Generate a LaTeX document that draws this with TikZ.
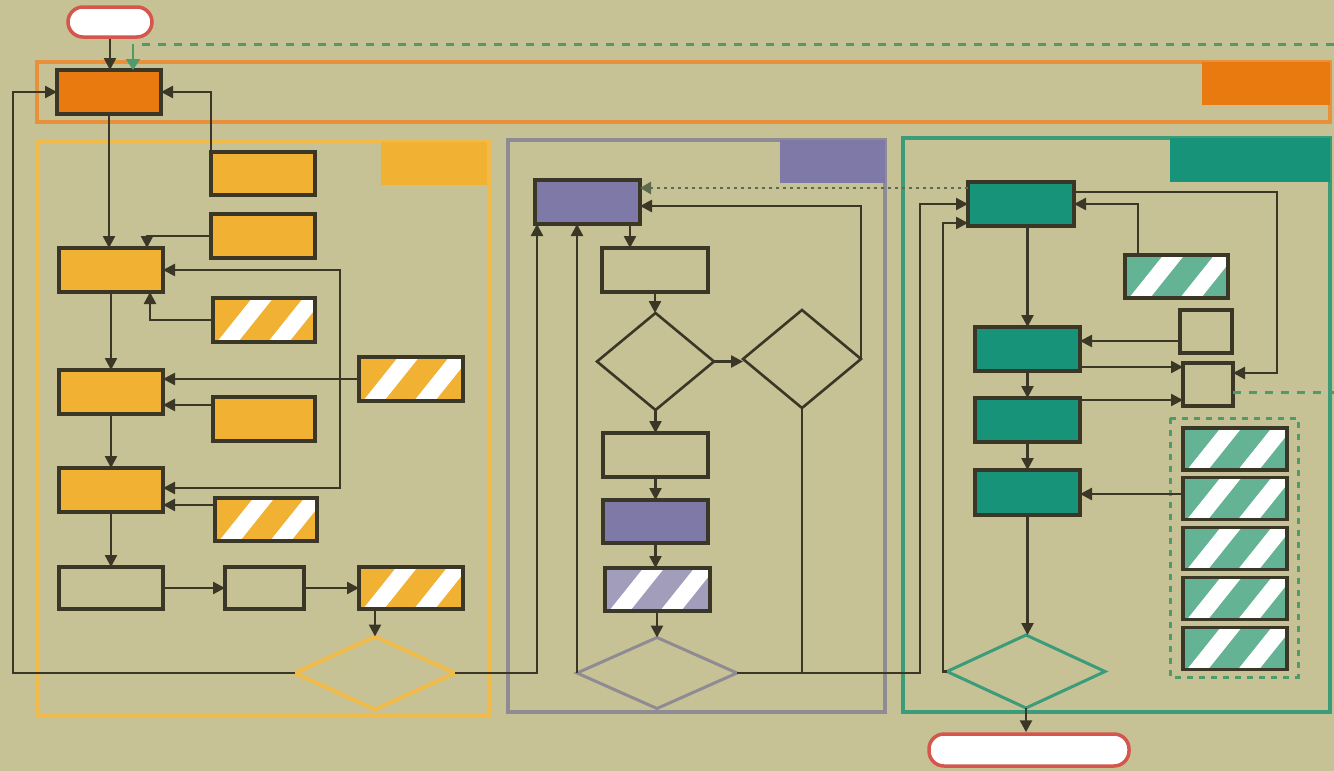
\documentclass[tikz,border=0pt]{standalone}
\usetikzlibrary{arrows.meta,shapes.geometric,calc}
\definecolor{bg}{HTML}{C6C295}
\definecolor{dkline}{HTML}{3B3726}
\definecolor{orgF}{HTML}{E97A0F}
\definecolor{orgFrame}{HTML}{E8913A}
\definecolor{yelF}{HTML}{F1B233}
\definecolor{yelFrame}{HTML}{F0BB4A}
\definecolor{purF}{HTML}{7F79A7}
\definecolor{purH}{HTML}{A29DBB}
\definecolor{purFrame}{HTML}{8E8B94}
\definecolor{grnF}{HTML}{179379}
\definecolor{grnH}{HTML}{65B395}
\definecolor{grnFrame}{HTML}{3C9B79}
\definecolor{termR}{HTML}{D4564C}
\definecolor{dashG}{HTML}{4E9A6A}
\definecolor{dotC}{HTML}{5E6A50}
\tikzset{
  bx/.style={rectangle, draw=dkline, line width=3.2pt, inner sep=0pt, outer sep=0pt},
  sz/.style n args={2}{minimum width=#1pt, minimum height=#2pt},
  hatch/.style={bx, fill=#1, path picture={
     \fill[white] ([xshift=4pt]path picture bounding box.south west) -- ++(21pt,0pt) -- ++(40pt,50pt) -- ++(-21pt,0pt) -- cycle;
     \fill[white] ([xshift=55pt]path picture bounding box.south west) -- ++(21pt,0pt) -- ++(40pt,50pt) -- ++(-21pt,0pt) -- cycle;
  }},
  dia/.style={diamond, draw=#1, line width=2.6pt, inner sep=0pt, outer sep=0pt},
  term/.style={rectangle, draw=termR, line width=3.5pt, fill=white, rounded corners=15pt, inner sep=0pt},
  arr/.style={draw=dkline, line width=2.5pt, -{Triangle[length=12pt,width=12pt]}},
  arrb/.style={draw=dkline, line width=2.5pt, {Triangle[length=12pt,width=12pt]}-{Triangle[length=12pt,width=12pt]}},
  ln/.style={draw=dkline, line width=2.5pt},
  frame/.style={draw=#1, line width=3.2pt},
}
\begin{document}
\begin{tikzpicture}[x=1pt,y=-1pt]
\fill[bg] (0,0) rectangle (1334,771);
\useasboundingbox (0,0) rectangle (1334,771);
% frames
\draw[frame=orgFrame] (37,62) rectangle (1330,122);
\fill[orgF] (1202,62) rectangle (1330,105);
\draw[frame=yelFrame, line width=4.5pt] (37,142) rectangle (490,715);
\fill[yelF] (381,142) rectangle (487,185);
\draw[frame=purFrame] (508,140) rectangle (885,712);
\fill[purF] (780,140) rectangle (885,183);
\draw[frame=grnFrame] (903,138) rectangle (1330,712);
\fill[grnF] (1170,138) rectangle (1330,182);
\draw[dashG, line width=3pt, dash pattern=on 6pt off 6pt] (1170,418) rectangle (1298,677);

% nodes
\node[term, sz={84}{30}] (start) at (110,22) {};
\node[term, sz={200}{32}] (end) at (1029,750) {};

\node[bx, fill=orgF, sz={104}{44}] (O) at (109,92) {};

\node[bx, fill=yelF, sz={104}{43}] (Y1) at (263,173.5) {};
\node[bx, fill=yelF, sz={104}{44}] (Y2) at (263,236) {};
\node[bx, fill=yelF, sz={104}{44}] (A) at (111,270) {};
\node[hatch=yelF, sz={102}{44}] (Y3) at (264,320) {};
\node[bx, fill=yelF, sz={104}{44}] (B) at (111,392) {};
\node[hatch=yelF, sz={104}{44}] (Y4) at (411,379) {};
\node[bx, fill=yelF, sz={102}{44}] (Y5) at (264,419) {};
\node[bx, fill=yelF, sz={104}{44}] (C) at (111,490) {};
\node[hatch=yelF, sz={102}{43}] (Y6) at (266,519.5) {};
\node[bx, sz={104}{42}] (D) at (111,588) {};
\node[bx, sz={79}{42}] (E) at (264.5,588) {};
\node[hatch=yelF, sz={104}{42}] (F) at (411,588) {};
\node[dia=yelFrame, line width=4pt, minimum width=160pt, minimum height=73pt] (YD) at (375,673) {};

\node[bx, fill=purF, sz={105}{44}] (P1) at (587.5,202) {};
\node[bx, sz={106}{44}] (P2) at (655,270) {};
\node[dia=dkline, minimum width=117pt, minimum height=97pt] (D1) at (655.5,361.5) {};
\node[dia=dkline, minimum width=118pt, minimum height=98pt] (D2) at (802,359) {};
\node[bx, sz={105}{44}] (P3) at (655.5,455) {};
\node[bx, fill=purF, sz={105}{43}] (P4) at (655.5,521.5) {};
\node[hatch=purH, sz={105}{43}] (P5) at (657.5,589.5) {};
\node[dia=purFrame, line width=3pt, minimum width=160pt, minimum height=71pt] (PD) at (657,673) {};

\node[bx, fill=grnF, sz={106}{44}] (G1) at (1021,204) {};
\node[hatch=grnH, sz={103}{43}] (GH1) at (1176.5,276.5) {};
\node[bx, sz={52}{43}] (S1) at (1206,331.5) {};
\node[bx, sz={50}{43}] (S2) at (1208,384.5) {};
\node[bx, fill=grnF, sz={105}{44}] (G2) at (1027.5,349) {};
\node[bx, fill=grnF, sz={105}{44}] (G3) at (1027.5,420) {};
\node[bx, fill=grnF, sz={105}{45}] (G4) at (1027.5,492.5) {};
\node[hatch=grnH, sz={104}{42}] (GH2) at (1235,449) {};
\node[hatch=grnH, sz={104}{42}] (GH3) at (1235,498.5) {};
\node[hatch=grnH, sz={104}{42}] (GH4) at (1235,548.5) {};
\node[hatch=grnH, sz={104}{42}] (GH5) at (1235,598.5) {};
\node[hatch=grnH, sz={104}{42}] (GH6) at (1235,648.5) {};
\node[dia=grnFrame, line width=3pt, minimum width=158pt, minimum height=73pt] (GD) at (1026,671.5) {};

\coordinate (gdash) at (1334,44);
\coordinate (gdash2) at (1334,392);

% connectors
\draw[arr] (start.south) -- (start.south |- O.north);
\draw[dashG, line width=3pt, dash pattern=on 8pt off 8pt] (gdash) -- (140,44);
\draw[dashG, line width=2.2pt, -{Triangle[length=11pt,width=14pt]}] (133,44) -- ([xshift=24pt]O.north);
\draw[arr] (YD.west) -| (13,150) |- (O.west);
\draw[arr] (Y1.north west) |- (O.east);
\draw[arr] (O.south) -- (O.south |- A.north);
\draw[arr] (Y2.west) -| ([xshift=36pt]A.north);
\draw[arr] (Y3.west) -| ([xshift=39pt]A.south);
\draw[arrb] (A.east) -- (340,270) -- (340,488) -- ([yshift=2pt]C.east);
\draw[arr] (Y4.west) -- ([yshift=13pt]B.east);
\draw[arr] ([yshift=14pt]Y5.west) -- ([yshift=-13pt]B.east);
\draw[arr] ([yshift=14.5pt]Y6.west) -- ([yshift=-15pt]C.east);
\draw[arr] (A.south) -- (B.north);
\draw[arr] (B.south) -- (C.north);
\draw[arr] (C.south) -- (D.north);
\draw[arr] (D.east) -- (E.west);
\draw[arr] (E.east) -- (F.west);
\draw[arr] ([xshift=-36pt]F.south) -- ([xshift=-36pt]F.south |- YD.north);

\draw[arr] (YD.east) -| ([xshift=-50.5pt]P1.south);
\draw[arr] (PD.west) -- (PD.west |- P1.south);
\draw[arr] ([xshift=42.5pt]P1.south) -- ([xshift=42.5pt]P1.south |- P2.north);
\draw[arr] (P2.south) -- (P2.south |- D1.north);
\draw[arr] (D1.south) -- (D1.south |- P3.north);
\draw[arr] (P3.south) -- (P4.north);
\draw[arr] (P4.south) -- (P4.south |- P5.north);
\draw[arr] (P5.south -| PD.north) -- (PD.north);
\draw[arr] (D1.east) -- (D1.east -| D2.west);
\draw[arr] (D2.east) |- ([yshift=-4pt]P1.east);
\draw[dotC, line width=2.8pt, dash pattern=on 3pt off 4pt, -{Triangle[length=11pt,width=12pt]}] ([yshift=16pt]G1.west) -- ([yshift=14pt]P1.east);
\draw[arr] (PD.east) -| ([xshift=-48pt]G1.west) -- (G1.west);
\draw[ln] (D2.south) -- (D2.south |- PD.east);
\draw[arr] (GD.west) -- ++(-4,0) |- ([yshift=-19pt]G1.west);

\draw[arr] (G2.north |- G1.south) -- (G2.north);
\draw[arr] ([xshift=-38.5pt]GH1.north) |- (G1.east);
\draw[arr] ([yshift=12pt]G1.east) -| (1277,300) |- ([yshift=11.5pt]S2.east);
\draw[arr] ([yshift=-9.5pt]S1.west) -- ([yshift=8pt]G2.east);
\draw[arr] ([yshift=-18pt]G2.east) -- ([yshift=17.5pt]S2.west);
\draw[arr] (G2.south) -- (G3.north);
\draw[arr] ([yshift=20pt]G3.east) -- ([yshift=-15.5pt]S2.west);
\draw[arr] (G3.south) -- (G4.north);
\draw[arr] ([yshift=4.5pt]GH3.west) -- ([yshift=-1.5pt]G4.east);
\draw[arr] (G4.south) -- (G4.south |- GD.north);
\draw[arr] (GD.south) -- (GD.south |- end.north);
\draw[dashG, line width=3pt, dash pattern=on 8pt off 8pt] ([yshift=-7.5pt]S2.east) -- (gdash2);
\end{tikzpicture}
\end{document}
